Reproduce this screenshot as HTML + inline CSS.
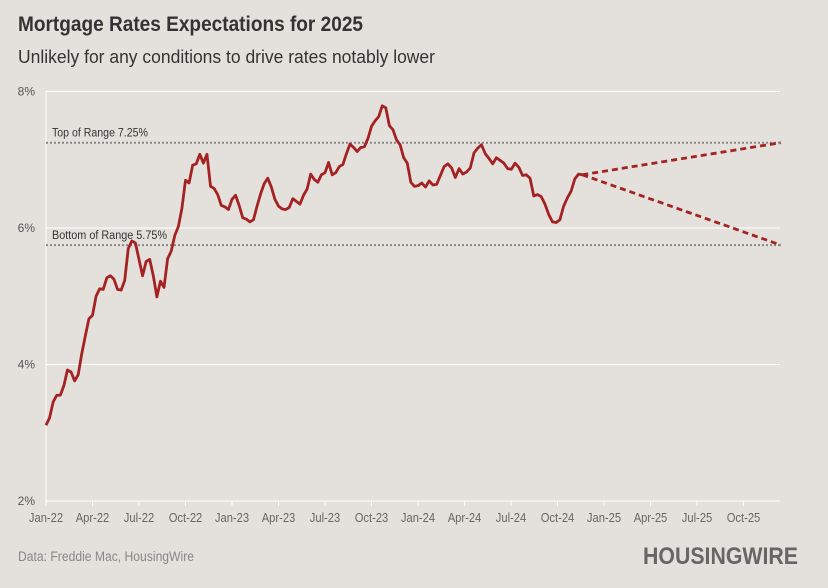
<!DOCTYPE html>
<html><head><meta charset="utf-8">
<style>
body{margin:0;background:#e4e1dd;}
svg{display:block;font-family:"Liberation Sans Narrow","Liberation Sans",sans-serif;}
</style></head>
<body>
<svg id="chart" width="828" height="588" viewBox="0 0 828 588">
<rect width="828" height="588" fill="#e4e1dd"/>
<text x="18" y="31" font-size="21" font-weight="bold" fill="#333" textLength="345" lengthAdjust="spacingAndGlyphs">Mortgage Rates Expectations for 2025</text>
<text x="18" y="63" font-size="18" fill="#333" textLength="417" lengthAdjust="spacingAndGlyphs">Unlikely for any conditions to drive rates notably lower</text>
<g id="grid"></g>
<g id="xaxis"></g>
<g id="series"></g>
<text x="18" y="561" font-size="13.5" fill="#888" textLength="176" lengthAdjust="spacingAndGlyphs">Data: Freddie Mac, HousingWire</text>
<text x="643" y="564" font-size="24" font-weight="bold" fill="#666" textLength="155" lengthAdjust="spacingAndGlyphs">HOUSINGWIRE</text>
</svg>
<script>
const yTicks=[2,4,6,8];
const xLabels=["Jan-22","Apr-22","Jul-22","Oct-22","Jan-23","Apr-23","Jul-23","Oct-23","Jan-24","Apr-24","Jul-24","Oct-24","Jan-25","Apr-25","Jul-25","Oct-25"];
const rates2022=[3.11,3.22,3.45,3.55,3.55,3.69,3.92,3.89,3.76,3.85,4.16,4.42,4.67,4.72,5.00,5.11,5.10,5.27,5.30,5.25,5.10,5.09,5.23,5.70,5.81,5.78,5.54,5.30,5.51,5.54,5.30,4.99,5.22,5.13,5.55,5.66,5.89,6.02,6.29,6.70,6.66,6.92,6.94,7.08,6.95,7.08,6.61,6.58,6.49,6.33,6.31,6.27];
const rates2023=[6.42,6.48,6.33,6.15,6.13,6.09,6.12,6.32,6.50,6.65,6.73,6.60,6.42,6.32,6.28,6.27,6.30,6.43,6.39,6.35,6.48,6.57,6.79,6.71,6.67,6.78,6.81,6.96,6.78,6.81,6.90,6.93,7.09,7.23,7.18,7.12,7.18,7.19,7.31,7.49,7.57,7.63,7.79,7.76,7.50,7.44,7.29,7.22,7.03,6.95,6.67,6.61];
const rates2024=[6.62,6.66,6.60,6.69,6.63,6.64,6.77,6.90,6.94,6.88,6.74,6.87,6.79,6.82,6.88,7.10,7.17,7.22,7.09,7.02,6.94,7.03,6.99,6.95,6.87,6.86,6.95,6.89,6.77,6.78,6.73,6.47,6.49,6.46,6.35,6.20,6.09,6.08,6.12,6.32,6.44,6.54,6.72,6.79,6.78];
const rangeLevels=[7.25,5.75];
const rangeLabels=["Top of Range 7.25%","Bottom of Range 5.75%"];
const endMonth2024=10.6, projEndMonth=47.4;

const NS="http://www.w3.org/2000/svg";
const x=m=>46+m*15.5;
const y=v=>501-(v-2)*68.25;
function mk(tag,attrs,parent){const e=document.createElementNS(NS,tag);for(const k in attrs)e.setAttribute(k,attrs[k]);parent.appendChild(e);return e;}
function squeeze(t,f){const w=t.getComputedTextLength();t.setAttribute('textLength',(w*f).toFixed(1));t.setAttribute('lengthAdjust','spacingAndGlyphs');}
const grid=document.getElementById('grid'),xa=document.getElementById('xaxis'),ser=document.getElementById('series');
yTicks.forEach(t=>{
  const l=mk('line',{x1:46,x2:780,y1:y(t),y2:y(t),stroke:'#fff','stroke-width':1},grid);
  
  
  const tx=mk('text',{x:35,y:y(t)+4,'font-size':12,fill:'#555','text-anchor':'end'},grid);
  tx.textContent=t+'%';
  
  
});
const ax=mk('line',{x1:46,x2:46,y1:y(8),y2:y(2),stroke:'#fff','stroke-width':1},grid);


xLabels.forEach((s,i)=>{
  const xx=x(i*3);
  mk('line',{x1:xx,x2:xx,y1:501,y2:506,stroke:'#fff'},xa);
  const t=mk('text',{x:xx,y:522,'font-size':13,fill:'#666','text-anchor':'middle'},xa);
  t.textContent=s;
  
  
  squeeze(t,0.86);
});
rangeLevels.forEach((v,i)=>{
  const l=mk('line',{x1:46,x2:780,y1:y(v),y2:y(v),stroke:'#888','stroke-width':2,'stroke-dasharray':'2,2'},grid);
  
  
  const t=mk('text',{x:52,y:y(v)-6,'font-size':11.5,fill:'#333'},grid);
  t.textContent=rangeLabels[i];
  
  
  if(i===0) squeeze(t,0.92); else {t.setAttribute('textLength','115');t.setAttribute('lengthAdjust','spacingAndGlyphs');}
});
const pts=[];
rates2022.forEach((v,i)=>pts.push([x(i*12/rates2022.length),y(v)]));
rates2023.forEach((v,i)=>pts.push([x(12+i*12/rates2023.length),y(v)]));
rates2024.forEach((v,i)=>pts.push([x(24+i*endMonth2024/(rates2024.length-1)),y(v)]));
const p=mk('polyline',{points:pts.map(q=>q.join(',')).join(' '),fill:'none',stroke:'#a52222','stroke-width':2.8,'stroke-linejoin':'round'},ser);


const last=pts[pts.length-1];
rangeLevels.forEach(v=>{
  const d=mk('line',{x1:last[0],y1:last[1],x2:x(projEndMonth),y2:y(v),stroke:'#a52222','stroke-width':2.8,'stroke-dasharray':'6,4'},ser);
  
  
});
</script>
</body></html>
